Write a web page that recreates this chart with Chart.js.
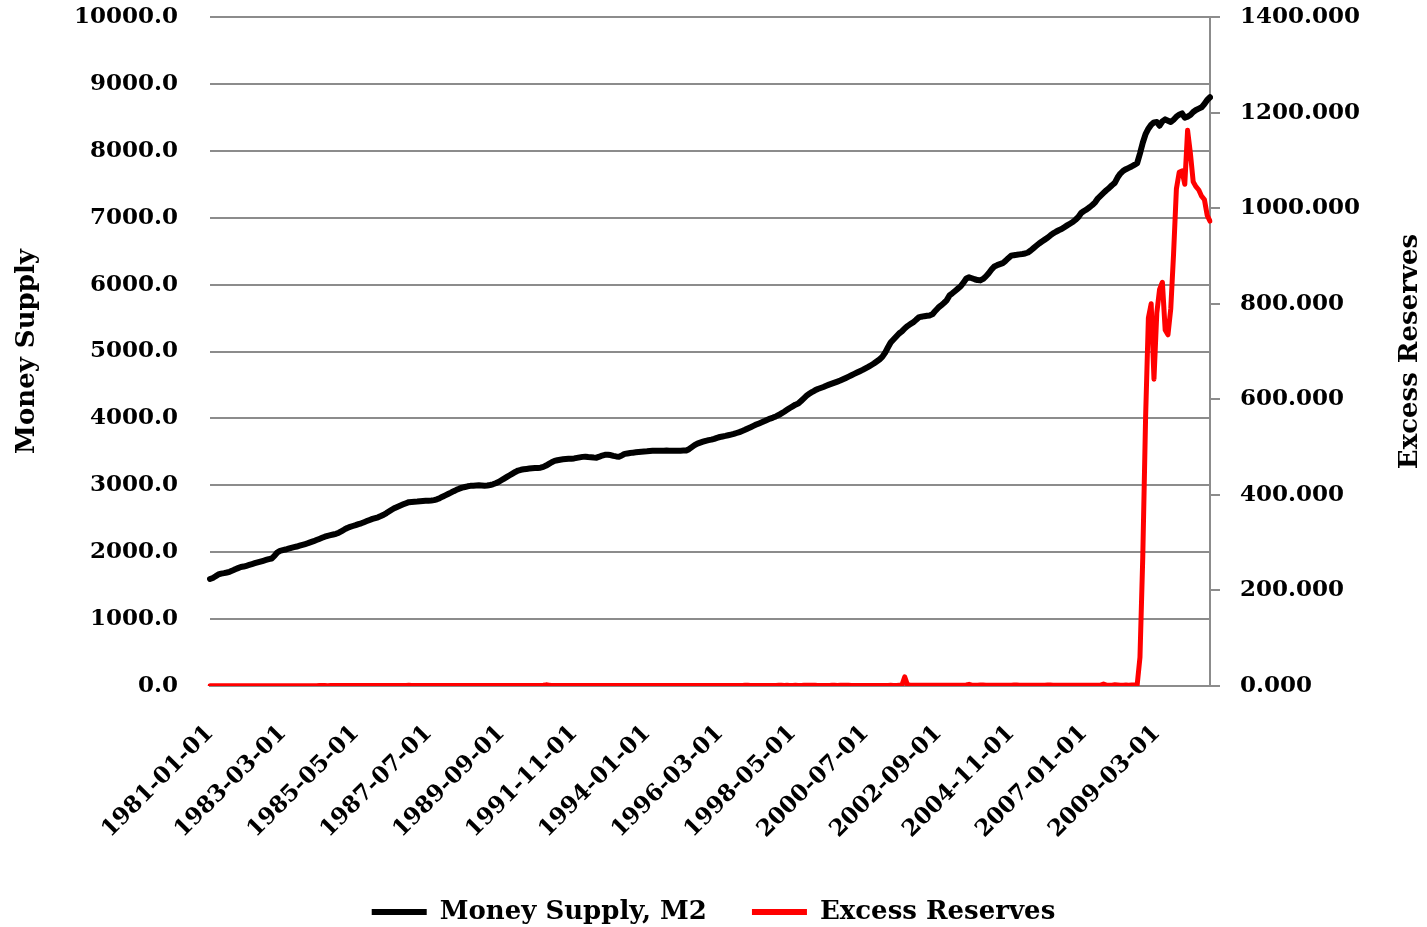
<!DOCTYPE html>
<html>
<head>
<meta charset="utf-8">
<script src="https://cdn.jsdelivr.net/npm/chart.js@4.4.0/dist/chart.umd.min.js"></script>
<style>
  html, body { margin: 0; padding: 0; background: #fff; }
  #wrap { width: 1427px; height: 927px; position: relative; }
</style>
</head>
<body>
<div id="wrap"><canvas id="moneyChart"></canvas></div>
<script>
// monthly categories, 1981-01 .. 2010-10
const startYear = 1981;
const monthCount = 358;
const months = [];
for (let i = 0; i < monthCount; i++) {
    const y = startYear + Math.floor(i / 12);
    const m = (i % 12) + 1;
    months.push(y + '-' + String(m).padStart(2, '0') + '-01');
}

// labels shown on the x axis (every 26 months)
const tickLabels = ['1981-01-01', '1983-03-01', '1985-05-01', '1987-07-01', '1989-09-01',
    '1991-11-01', '1994-01-01', '1996-03-01', '1998-05-01', '2000-07-01',
    '2002-09-01', '2004-11-01', '2007-01-01', '2009-03-01'];

// Money Supply, M2 (left axis), one row per year
const moneySupply = [
    1600, 1615, 1640, 1668, 1680, 1688, 1697, 1707, 1725, 1745, 1762, 1778,
    1785, 1797, 1810, 1822, 1835, 1847, 1860, 1872, 1885, 1897, 1905, 1945,
    1995, 2020, 2030, 2040, 2052, 2064, 2075, 2085, 2098, 2110, 2122, 2135,
    2150, 2165, 2182, 2198, 2215, 2232, 2245, 2255, 2265, 2275, 2292, 2315,
    2340, 2362, 2378, 2392, 2405, 2420, 2432, 2448, 2465, 2482, 2498, 2510,
    2522, 2540, 2560, 2585, 2612, 2638, 2662, 2680, 2697, 2715, 2732, 2748,
    2752, 2755, 2758, 2762, 2765, 2768, 2770, 2772, 2778, 2790, 2808, 2830,
    2850, 2870, 2890, 2912, 2932, 2950, 2965, 2975, 2985, 2992, 2995, 2998,
    3000, 2998, 2995, 2998, 3005, 3015, 3030, 3050, 3075, 3100, 3125, 3150,
    3175, 3200, 3220, 3232, 3240, 3245, 3250, 3255, 3258, 3260, 3263, 3275,
    3295, 3320, 3345, 3365, 3375, 3382, 3388, 3392, 3396, 3398, 3402, 3410,
    3418, 3425, 3428, 3422, 3418, 3414, 3413, 3428, 3445, 3456, 3458, 3452,
    3440, 3432, 3428, 3445, 3470, 3476, 3482, 3488, 3493, 3498, 3502, 3505,
    3508, 3512, 3515, 3518, 3518, 3517, 3518, 3519, 3518, 3517, 3518, 3518,
    3518, 3519, 3520, 3540, 3570, 3600, 3623, 3638, 3652, 3665, 3675, 3683,
    3695, 3710, 3722, 3730, 3738, 3748, 3758, 3768, 3782, 3795, 3812, 3830,
    3850, 3868, 3888, 3908, 3925, 3942, 3960, 3980, 3998, 4012, 4030, 4050,
    4075, 4100, 4128, 4155, 4180, 4205, 4222, 4260, 4300, 4340, 4372, 4395,
    4420, 4440, 4455, 4470, 4488, 4505, 4520, 4535, 4550, 4566, 4585, 4605,
    4625, 4645, 4665, 4685, 4705, 4725, 4748, 4770, 4795, 4820, 4850, 4880,
    4920, 4980, 5060, 5135, 5180, 5225, 5269, 5300, 5344, 5380, 5410, 5434,
    5470, 5509, 5520, 5528, 5535, 5539, 5560, 5610, 5655, 5689, 5725, 5765,
    5838, 5870, 5905, 5940, 5975, 6030, 6090, 6108, 6095, 6080, 6068, 6063,
    6085, 6123, 6170, 6225, 6272, 6290, 6305, 6320, 6355, 6395, 6432, 6440,
    6445, 6452, 6458, 6465, 6480, 6510, 6545, 6580, 6615, 6645, 6672, 6700,
    6735, 6766, 6790, 6812, 6830, 6858, 6885, 6910, 6935, 6970, 7010, 7070,
    7100, 7125, 7156, 7190, 7230, 7290, 7330, 7370, 7410, 7445, 7485, 7520,
    7600, 7660, 7700, 7725, 7745, 7765, 7790, 7815, 7960, 8120, 8250, 8330,
    8390, 8425, 8430, 8375, 8440, 8470, 8450, 8430, 8465, 8510, 8540, 8560,
    8495, 8510, 8535, 8580, 8610, 8630, 8650, 8700, 8760, 8800
];

// Excess Reserves (right axis), one row per year
const excessReserves = [
    0.3, 0.4, 0.3, 0.3, 0.4, 0.3, 0.3, 0.3, 0.4, 0.3, 0.3, 0.4,
    0.4, 0.4, 0.3, 0.4, 0.4, 0.3, 0.4, 0.4, 0.4, 0.4, 0.5, 0.5,
    0.5, 0.5, 0.4, 0.5, 0.5, 0.5, 0.5, 0.5, 0.6, 0.6, 0.6, 0.7,
    0.7, 0.6, 0.7, 0.8, 0.8, 0.9, 0.7, 0.8, 0.8, 0.9, 0.8, 1.0,
    0.8, 0.9, 0.8, 0.9, 1.0, 0.9, 1.0, 0.9, 1.0, 1.1, 1.0, 1.2,
    0.9, 0.9, 1.0, 1.0, 0.9, 1.0, 1.0, 1.1, 1.1, 1.0, 1.1, 1.4,
    1.1, 1.0, 1.0, 1.0, 1.0, 1.0, 0.9, 1.0, 1.0, 1.0, 1.0, 1.2,
    1.0, 0.9, 1.0, 1.0, 1.0, 1.0, 1.0, 0.9, 1.0, 1.0, 1.0, 1.0,
    1.1, 0.9, 0.9, 1.0, 0.9, 1.0, 1.0, 1.0, 0.9, 0.9, 1.0, 1.0,
    1.1, 1.0, 0.9, 1.0, 0.9, 1.0, 1.0, 1.0, 0.9, 1.0, 1.2, 1.6,
    2.4, 1.8, 1.3, 1.2, 1.1, 1.1, 1.0, 1.0, 1.1, 1.0, 1.0, 1.2,
    1.3, 1.0, 1.0, 1.0, 1.0, 1.0, 1.0, 1.0, 1.0, 1.0, 1.0, 1.1,
    1.2, 1.0, 1.0, 1.0, 1.0, 1.0, 1.0, 1.0, 1.0, 1.1, 1.0, 1.2,
    1.2, 1.1, 1.0, 1.1, 1.0, 1.0, 1.1, 1.0, 1.1, 1.0, 1.1, 1.2,
    1.3, 1.1, 1.0, 1.0, 1.1, 1.1, 1.0, 1.1, 1.1, 1.0, 1.1, 1.2,
    1.3, 1.1, 1.1, 1.2, 1.2, 1.3, 1.3, 1.2, 1.2, 1.3, 1.2, 1.5,
    1.6, 1.3, 1.3, 1.3, 1.3, 1.3, 1.3, 1.3, 1.2, 1.3, 1.3, 1.4,
    1.5, 1.3, 1.4, 1.3, 1.3, 1.4, 1.3, 1.3, 1.4, 1.4, 1.4, 1.6,
    1.6, 1.3, 1.3, 1.3, 1.3, 1.3, 1.4, 1.4, 1.3, 1.4, 1.4, 1.4,
    1.4, 1.1, 1.2, 1.3, 1.2, 1.2, 1.2, 1.2, 1.1, 1.2, 1.2, 1.3,
    1.3, 1.2, 1.3, 1.4, 1.3, 1.3, 1.4, 1.4, 19.0, 2.5, 1.4, 1.6,
    1.7, 1.4, 1.4, 1.5, 1.4, 1.5, 1.6, 1.5, 1.6, 1.5, 1.6, 1.8,
    1.8, 1.6, 1.5, 1.6, 1.6, 1.8, 2.0, 3.5, 1.8, 1.8, 1.8, 2.2,
    2.0, 1.7, 1.6, 1.7, 1.7, 1.8, 1.8, 1.7, 1.8, 1.7, 1.8, 1.9,
    2.0, 1.7, 1.6, 1.6, 1.7, 1.7, 1.7, 1.8, 1.7, 1.7, 1.8, 1.9,
    1.9, 1.7, 1.7, 1.7, 1.7, 1.7, 1.7, 1.8, 1.8, 1.7, 1.8, 1.8,
    1.7, 1.6, 1.7, 1.6, 1.6, 1.6, 1.7, 4.0, 1.8, 1.8, 1.8, 2.4,
    2.0, 1.6, 1.8, 1.9, 1.8, 2.0, 2.0, 1.9, 60, 270, 560, 770,
    800, 642, 780, 830, 845, 745, 735, 790, 905, 1040, 1075, 1078,
    1050, 1163, 1115, 1055, 1045, 1038, 1025, 1018, 985, 973
];

const FONT = "'DejaVu Serif', 'Liberation Serif', serif";
const GRID = '#8c8c8c';

// right axis title reads bottom-to-top like the left one
const rightTitle = {
    id: 'rightTitle',
    afterDraw(chart) {
        const ctx = chart.ctx;
        const area = chart.chartArea;
        ctx.save();
        ctx.translate(chart.width - 17, (area.top + area.bottom) / 2);
        ctx.rotate(-Math.PI / 2);
        ctx.font = 'bold 26px ' + FONT;
        ctx.fillStyle = '#000';
        ctx.textAlign = 'center';
        ctx.textBaseline = 'middle';
        ctx.fillText('Excess Reserves', 0, 0);
        ctx.restore();
    }
};

// vertical axes: no extra room above/below for half tick labels
function fitVertical(width) {
    return function(scale) {
        scale.width = width;
        scale.paddingTop = 0;
        scale.paddingBottom = 0;
    };
}

const ctx = document.getElementById('moneyChart');
new Chart(ctx, {
    type: 'line',
    data: {
        labels: months,
        datasets: [{
            label: 'Money Supply, M2',
            data: moneySupply,
            yAxisID: 'y',
            borderColor: '#000000',
            backgroundColor: '#000000',
            borderWidth: 6,
            borderJoinStyle: 'round',
            borderCapStyle: 'round',
            pointRadius: 0,
            pointStyle: 'line',
            pointBorderWidth: 6,
            pointBorderColor: '#000000',
            tension: 0
        }, {
            label: 'Excess Reserves',
            data: excessReserves,
            yAxisID: 'y1',
            borderColor: '#ff0000',
            backgroundColor: '#ff0000',
            borderWidth: 5,
            borderJoinStyle: 'round',
            borderCapStyle: 'round',
            pointRadius: 0,
            pointStyle: 'line',
            pointBorderWidth: 6,
            pointBorderColor: '#ff0000',
            tension: 0
        }]
    },
    options: {
        responsive: true,
        maintainAspectRatio: false,
        animation: false,
        layout: { padding: { top: 17, right: 0, bottom: -8, left: 0 } },
        plugins: {
            legend: {
                position: 'bottom',
                labels: {
                    usePointStyle: true,
                    pointStyleWidth: 55,
                    color: '#000',
                    padding: 45,
                    font: { family: FONT, size: 26, weight: 'bold' }
                }
            },
            tooltip: { enabled: false }
        },
        scales: {
            x: {
                grid: { display: false },
                border: { display: true, color: GRID, width: 2 },
                ticks: {
                    autoSkip: false,
                    minRotation: 45,
                    maxRotation: 45,
                    padding: 26,
                    color: '#000',
                    font: { family: FONT, size: 23, weight: 'bold' },
                    callback: function(value, index) {
                        return tickLabels.includes(months[index]) ? months[index] : '';
                    }
                },
                afterFit: function(scale) { scale.height = 168; }
            },
            y: {
                position: 'left',
                min: 0,
                max: 10000,
                grid: { color: GRID, lineWidth: 2, drawTicks: false },
                border: { display: false },
                ticks: {
                    stepSize: 1000,
                    padding: 32,
                    color: '#000',
                    font: { family: FONT, size: 23, weight: 'bold' },
                    callback: function(value) { return value.toFixed(1); }
                },
                title: {
                    display: true,
                    text: 'Money Supply',
                    color: '#000',
                    padding: { top: 12, bottom: 0 },
                    font: { family: FONT, size: 26, weight: 'bold' }
                },
                afterFit: fitVertical(210)
            },
            y1: {
                position: 'right',
                min: 0,
                max: 1400,
                grid: { drawOnChartArea: false, color: GRID, lineWidth: 2, tickLength: 10 },
                border: { display: true, color: GRID, width: 2 },
                ticks: {
                    stepSize: 200,
                    padding: 20,
                    color: '#000',
                    font: { family: FONT, size: 23, weight: 'bold' },
                    callback: function(value) { return value.toFixed(3); }
                },
                afterFit: fitVertical(217)
            }
        }
    },
    plugins: [rightTitle]
});
</script>
</body>
</html>
